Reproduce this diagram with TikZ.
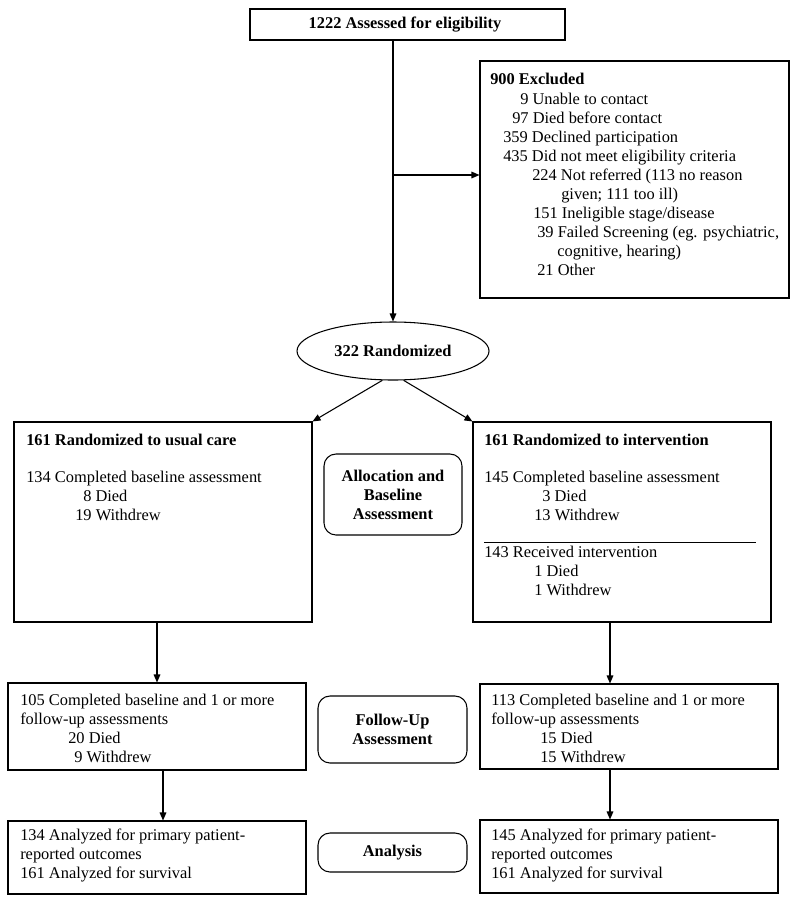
\documentclass[tikz,border=0pt]{standalone}
\usepackage{fontspec}
\setmainfont{Liberation Serif}
\usetikzlibrary{shapes.geometric,arrows.meta,fit,calc}
\begin{document}
\begin{tikzpicture}[x=0.75pt,y=-0.75pt,
  every node/.style={font=\fontsize{12.3}{14.25}\selectfont},
  box/.style={draw, line width=0.8pt, inner sep=0pt},
  lab/.style={draw, line width=0.8pt, rounded corners=9pt, inner sep=0pt},
  txt/.style={anchor=base west, inner sep=0pt},
  ttl/.style={txt, font=\fontsize{12.3}{14.25}\selectfont\bfseries},
  labtxt/.style={align=center, inner sep=0pt, font=\fontsize{12.3}{14.25}\selectfont\bfseries},
  arr/.style={line width=0.8pt, -{Triangle[length=6pt,width=5pt]}},
  ln/.style={line width=0.5pt}]
\useasboundingbox (0,0) rectangle (799,904);

% boxes
\node[box, fit={(250,9) (565,40)}] (top) {};
\node[ttl, anchor=center] (toptxt) at (405,25) {1222 Assessed for eligibility};
\node[box, fit={(480,61) (789,298)}] (excl) {};
\node[draw, ellipse, line width=0.8pt, minimum width=144pt, minimum height=43.5pt, inner sep=0pt,
      font=\fontsize{12.3}{14.25}\selectfont\bfseries] (rand) at (393,351) {322 Randomized};
\node[box, fit={(14,422) (312,622)}] (usual) {};
\node[box, fit={(473,422) (771,622)}] (interv) {};
\node[box, fit={(8,683) (306,770)}] (fu1) {};
\node[box, fit={(480,684) (778,769)}] (fu2) {};
\node[box, fit={(8,821) (306,894)}] (an1) {};
\node[box, fit={(480,820) (778,893)}] (an2) {};

% phase labels
\node[lab, fit={(324,454) (462,535)}] (alloc) {};
\node[labtxt] (alloctxt) at (alloc.center) {Allocation and\\Baseline\\Assessment};
\node[lab, fit={(318,696) (467,763)}] (follow) {};
\node[labtxt] (followtxt) at (follow.center) {Follow-Up\\Assessment};
\node[lab, fit={(318,833) (467,872)}] (anal) {};
\node[labtxt] (analtxt) at (anal.center) {Analysis};

% excluded text
\node[ttl] (e0) at (490,84) {900 Excluded};
\node[txt] (e1) at (520,104) {9 Unable to contact};
\node[txt] (e2) at (512,123) {97 Died before contact};
\node[txt] (e3) at (503,142) {359 Declined participation};
\node[txt] (e4) at (503,161) {435 Did not meet eligibility criteria};
\node[txt] (e5) at (532,180) {224 Not referred (113 no reason};
\node[txt] (e6) at (561,199) {given; 111 too ill)};
\node[txt] (e7) at (533,218) {151 Ineligible stage/disease};
\node[txt] (e8) at (537,237) {39 Failed Screening (eg. psychiatric,};
\node[txt] (e9) at (557,256) {cognitive, hearing)};
\node[txt] (e10) at (537,275) {21 Other};

% usual care
\node[ttl] (u0) at (26,445.5) {161 Randomized to usual care};
\node[txt] (u1) at (26,482.5) {134 Completed baseline assessment};
\node[txt] (u2) at (83,501.5) {8 Died};
\node[txt] (u3) at (75,520.5) {19 Withdrew};

% intervention
\node[ttl] (i0) at (484,445.5) {161 Randomized to intervention};
\node[txt] (i1) at (484,482.5) {145 Completed baseline assessment};
\node[txt] (i2) at (542,501.5) {3 Died};
\node[txt] (i3) at (534,520.5) {13 Withdrew};
\coordinate (sepa) at (484,542);
\coordinate (sepb) at (756,542);
\draw[ln] (sepa) -- (sepb);
\node[txt] (i4) at (484,557.5) {143 Received intervention};
\node[txt] (i5) at (534,576.5) {1 Died};
\node[txt] (i6) at (534,595.5) {1 Withdrew};

% follow-up
\node[txt] (f1) at (20,705.5) {105 Completed baseline and 1 or more};
\node[txt] (f2) at (20,724.5) {follow-up assessments};
\node[txt] (f3) at (68,743.5) {20 Died};
\node[txt] (f4) at (74,762.5) {9 Withdrew};
\node[txt] (g1) at (491,705.5) {113 Completed baseline and 1 or more};
\node[txt] (g2) at (491,724.5) {follow-up assessments};
\node[txt] (g3) at (540,743.5) {15 Died};
\node[txt] (g4) at (540,762.5) {15 Withdrew};

% analysis
\node[txt] (a1) at (20,840.5) {134 Analyzed for primary patient-};
\node[txt] (a2) at (20,859.5) {reported outcomes};
\node[txt] (a3) at (20,878.5) {161 Analyzed for survival};
\node[txt] (b1) at (491,840.5) {145 Analyzed for primary patient-};
\node[txt] (b2) at (491,859.5) {reported outcomes};
\node[txt] (b3) at (491,878.5) {161 Analyzed for survival};

% connectors
\draw[arr] (top.south -| rand.north) -- (rand.north);
\coordinate (br) at (393,175);
\draw[arr] (br) -- (br -| excl.west);
\draw[arr] (rand.250) -- (usual.north east);
\draw[arr] (rand.290) -- (interv.north west);
\coordinate (xl1) at (157,0);
\coordinate (xl2) at (163,0);
\coordinate (xr) at (610,0);
\draw[arr] (usual.south -| xl1) -- (fu1.north -| xl1);
\draw[arr] (fu1.south -| xl2) -- (an1.north -| xl2);
\draw[arr] (interv.south -| xr) -- (fu2.north -| xr);
\draw[arr] (fu2.south -| xr) -- (an2.north -| xr);
\end{tikzpicture}
\end{document}
